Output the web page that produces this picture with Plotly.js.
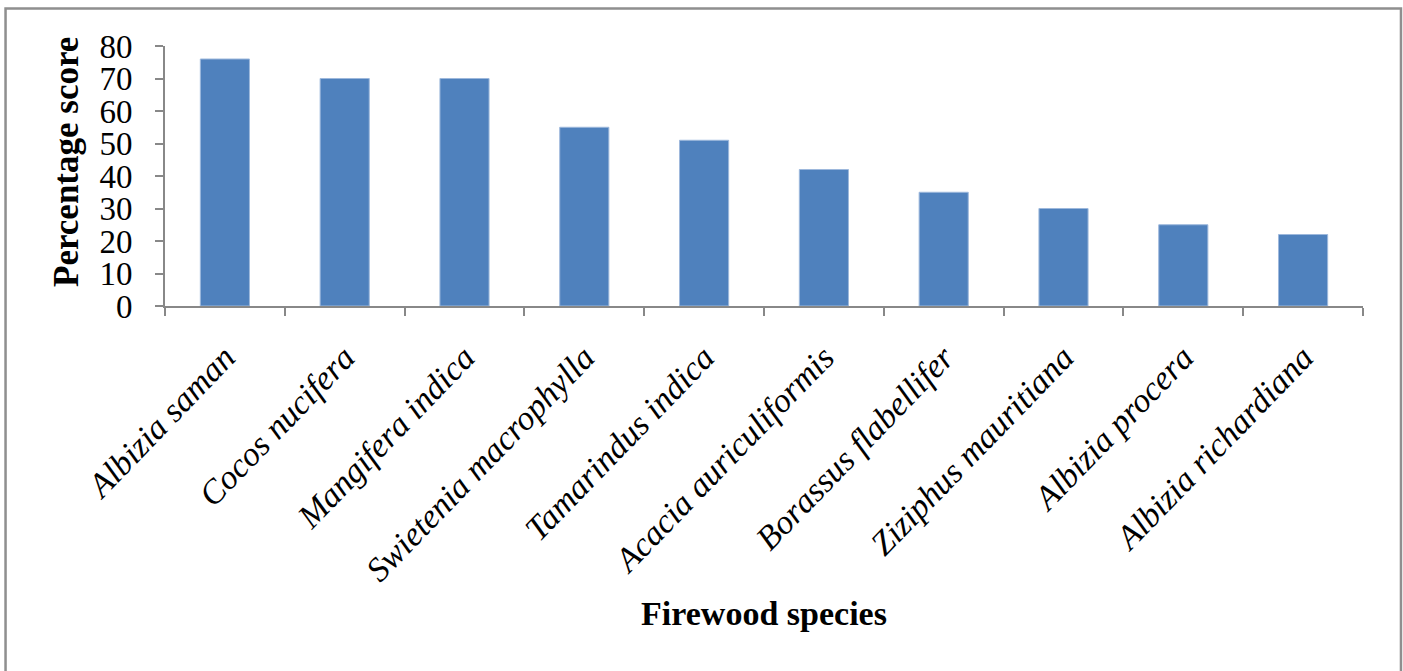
<!DOCTYPE html>
<html>
<head>
<meta charset="utf-8">
<script src="https://cdn.plot.ly/plotly-3.0.1.min.js"></script>
<style>
  html, body { margin: 0; padding: 0; background: #ffffff; }
  #chart { width: 1403px; height: 671px; }
</style>
</head>
<body>
<div id="chart"></div>
<script>
const species = [
  "Albizia saman",
  "Cocos nucifera",
  "Mangifera indica",
  "Swietenia macrophylla",
  "Tamarindus indica",
  "Acacia auriculiformis",
  "Borassus flabellifer",
  "Ziziphus mauritiana",
  "Albizia procera",
  "Albizia richardiana"
];
const percentageScore = [76, 70, 70, 55, 51, 42, 35, 30, 25, 22];
const yTickValues = [0, 10, 20, 30, 40, 50, 60, 70, 80];

const serif = "Liberation Serif, Times New Roman, serif";

const trace = {
  type: "bar",
  x: species,
  y: percentageScore,
  marker: { color: "#4F81BD", line: { color: "#9DB8DC", width: 1 } },
  hoverinfo: "x+y"
};

const layout = {
  width: 1403,
  height: 671,
  margin: { l: 165, r: 40, t: 46, b: 365 },
  paper_bgcolor: "#ffffff",
  plot_bgcolor: "#ffffff",
  showlegend: false,
  bargap: 0.59,
  font: { family: serif, color: "#000000" },
  xaxis: {
    type: "category",
    range: [-0.5, 9.5],
    showline: true,
    linecolor: "#888888",
    linewidth: 2,
    ticks: "outside",
    tickson: "boundaries",
    ticklen: 8,
    tickwidth: 2,
    tickcolor: "#888888",
    tickangle: -46,
    ticklabelstandoff: 16,
    tickfont: { family: serif, size: 34, color: "#000000", style: "italic" },
    showgrid: false,
    zeroline: false,
    fixedrange: true,
    title: {
      text: "<b>Firewood species</b>",
      font: { family: serif, size: 34, color: "#000000" },
      standoff: 14
    }
  },
  yaxis: {
    range: [0, 80],
    tickvals: yTickValues,
    ticktext: yTickValues.map(String),
    showline: true,
    linecolor: "#888888",
    linewidth: 2,
    ticks: "outside",
    ticklen: 8,
    tickwidth: 2,
    tickcolor: "#888888",
    ticklabelstandoff: 16,
    tickfont: { family: serif, size: 33, color: "#000000" },
    showgrid: false,
    zeroline: false,
    fixedrange: true
  },
  annotations: [{
    text: "<b>Percentage score</b>",
    xref: "paper", yref: "paper",
    x: (66 - 165) / 1198, y: (306 - 162) / 260,
    xanchor: "center", yanchor: "middle",
    textangle: -90,
    showarrow: false,
    font: { family: serif, size: 35, color: "#000000" }
  }],
  shapes: [{
    type: "rect",
    xref: "paper", yref: "paper",
    x0: -0.1331, x1: 1.0317,
    y0: -1.45, y1: 1.1442,
    line: { color: "#8f8f8f", width: 2.5 },
    fillcolor: "rgba(0,0,0,0)",
    layer: "below"
  }]
};

Plotly.newPlot("chart", [trace], layout, { displayModeBar: false, staticPlot: true });
</script>
</body>
</html>
